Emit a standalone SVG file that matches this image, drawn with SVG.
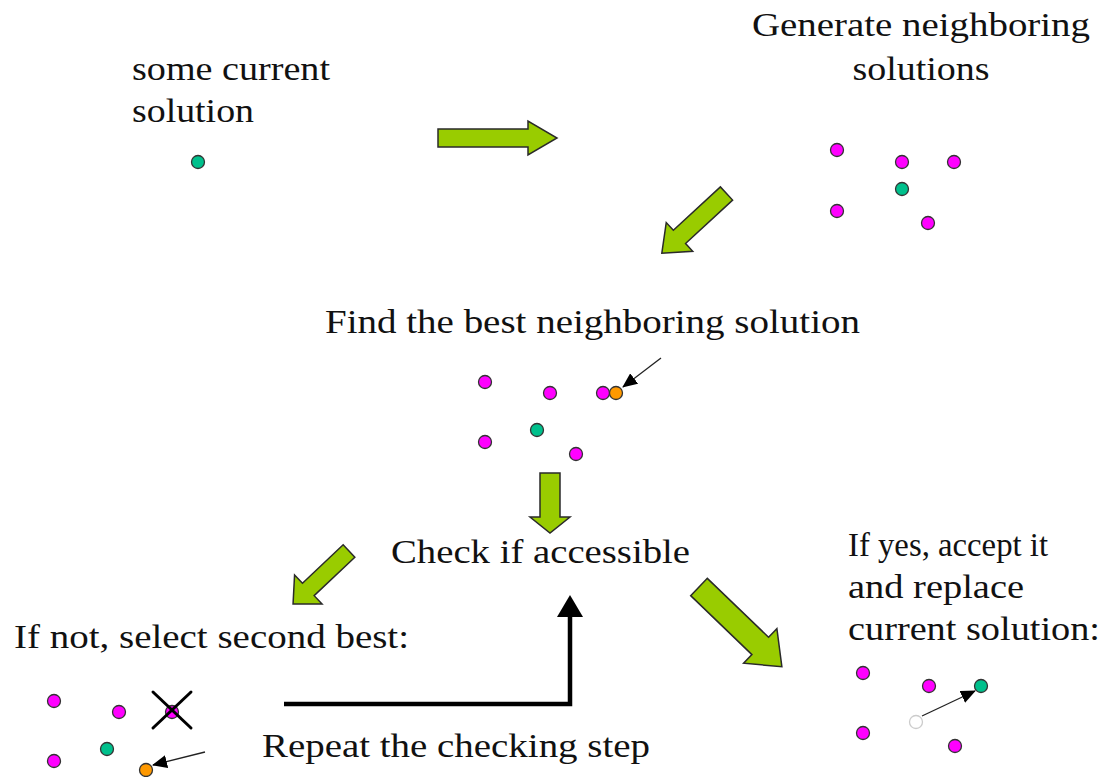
<svg xmlns="http://www.w3.org/2000/svg" width="1109" height="777" viewBox="0 0 1109 777">
  <style>
    .label { font-family: "Liberation Serif", "Times New Roman", Times, serif; font-size: 33px; fill: #111; }
    .mid { text-anchor: middle; }
    .flow { fill: #99CC00; stroke: #2a2a2a; stroke-width: 1.5; stroke-linejoin: miter; }
    .nb { fill: #FF00FF; stroke: #333; stroke-width: 1.3; }
    .cur { fill: #00C08C; stroke: #333; stroke-width: 1.3; }
    .best { fill: #FF9900; stroke: #333; stroke-width: 1.3; }
    .old { fill: #fff; stroke: #ccc; stroke-width: 1.3; }
    .ptr { stroke: #222; stroke-width: 1.3; fill: none; }
    .cross { stroke: #000; stroke-width: 3; stroke-linecap: round; }
  </style>
  <defs>
    <marker id="tri" markerWidth="15" markerHeight="13" refX="14" refY="6.5" orient="auto" markerUnits="userSpaceOnUse">
      <path d="M0,0 L15,6.5 L0,13 Z" fill="#000"/>
    </marker>
  </defs>

  <!-- step labels -->
  <g id="label-current">
    <text class="label" x="132" y="80" textLength="198" lengthAdjust="spacingAndGlyphs">some current</text>
    <text class="label" x="132" y="122" textLength="122" lengthAdjust="spacingAndGlyphs">solution</text>
  </g>
  <g id="label-generate">
    <text class="label mid" x="921" y="36" textLength="338" lengthAdjust="spacingAndGlyphs">Generate neighboring</text>
    <text class="label mid" x="921" y="80" textLength="137" lengthAdjust="spacingAndGlyphs">solutions</text>
  </g>
  <g id="label-find">
    <text class="label" x="325" y="333" textLength="535" lengthAdjust="spacingAndGlyphs">Find the best neighboring solution</text>
  </g>
  <g id="label-check">
    <text class="label" x="391" y="563" textLength="299" lengthAdjust="spacingAndGlyphs">Check if accessible</text>
  </g>
  <g id="label-second">
    <text class="label" x="14" y="648" textLength="395" lengthAdjust="spacingAndGlyphs">If not, select second best:</text>
  </g>
  <g id="label-accept">
    <text class="label" x="848" y="556" textLength="200" lengthAdjust="spacingAndGlyphs">If yes, accept it</text>
    <text class="label" x="848" y="598" textLength="176" lengthAdjust="spacingAndGlyphs">and replace</text>
    <text class="label" x="848" y="640" textLength="252" lengthAdjust="spacingAndGlyphs">current solution:</text>
  </g>
  <g id="label-repeat">
    <text class="label" x="262" y="757" textLength="388" lengthAdjust="spacingAndGlyphs">Repeat the checking step</text>
  </g>

  <!-- solution point clusters -->
  <g id="cluster-start">
    <circle class="cur" cx="198" cy="162" r="6.5"/>
  </g>
  <g id="cluster-neighbors">
    <circle class="nb" cx="837" cy="150" r="6.5"/>
    <circle class="nb" cx="902" cy="162" r="6.5"/>
    <circle class="nb" cx="954" cy="162" r="6.5"/>
    <circle class="cur" cx="902" cy="189" r="6.5"/>
    <circle class="nb" cx="837" cy="211" r="6.5"/>
    <circle class="nb" cx="928" cy="223" r="6.5"/>
  </g>
  <g id="cluster-best">
    <circle class="nb" cx="485" cy="382" r="6.5"/>
    <circle class="nb" cx="550" cy="393" r="6.5"/>
    <circle class="nb" cx="603" cy="393" r="6.5"/>
    <circle class="best" cx="616" cy="393" r="6.5"/>
    <circle class="cur" cx="537" cy="430" r="6.5"/>
    <circle class="nb" cx="485" cy="442" r="6.5"/>
    <circle class="nb" cx="576" cy="454" r="6.5"/>
    <line class="ptr" x1="661" y1="358" x2="623" y2="387" marker-end="url(#tri)"/>
  </g>
  <g id="cluster-second">
    <circle class="nb" cx="54" cy="701" r="6.5"/>
    <circle class="nb" cx="119" cy="712" r="6.5"/>
    <circle class="nb" cx="172" cy="712" r="6.5"/>
    <line class="cross" x1="153" y1="692" x2="191" y2="728"/>
    <line class="cross" x1="191" y1="692" x2="153" y2="728"/>
    <circle class="cur" cx="107" cy="749" r="6.5"/>
    <circle class="nb" cx="54" cy="761" r="6.5"/>
    <circle class="best" cx="146" cy="770" r="6.5"/>
    <line class="ptr" x1="205" y1="752" x2="153" y2="765" marker-end="url(#tri)"/>
  </g>
  <g id="cluster-accepted">
    <circle class="nb" cx="863" cy="673" r="6.5"/>
    <circle class="nb" cx="929" cy="686" r="6.5"/>
    <circle class="cur" cx="981" cy="686" r="6.5"/>
    <circle class="old" cx="916" cy="722" r="6.5"/>
    <circle class="nb" cx="863" cy="733" r="6.5"/>
    <circle class="nb" cx="955" cy="746" r="6.5"/>
    <line class="ptr" x1="922" y1="716" x2="975" y2="691" marker-end="url(#tri)"/>
  </g>

  <!-- connectors -->
  <g id="connectors">
    <polygon class="flow" transform="translate(438,138)" points="0,-9 90,-9 90,-17 119,0 90,17 90,9 0,9"/>
    <polygon class="flow" transform="translate(726.5,193.5) rotate(137.3)" points="0,-9 64,-9 64,-19.5 88,0 64,19.5 64,9 0,9"/>
    <polygon class="flow" points="540,473 560,473 560,517 570,517 550,533 530,517 540,517"/>
    <polygon class="flow" transform="translate(349,551) rotate(136.6)" points="0,-8.5 56,-8.5 56,-20 77,0 56,20 56,8.5 0,8.5"/>
    <polygon class="flow" transform="translate(699,587) rotate(43.9)" points="0,-12 85,-12 85,-24 115,0 85,24 85,12 0,12"/>
    <polyline points="284,704 570,704 570,614" fill="none" stroke="#000" stroke-width="4.5"/>
    <polygon points="557,617 583,617 570,595" fill="#000"/>
  </g>
</svg>
